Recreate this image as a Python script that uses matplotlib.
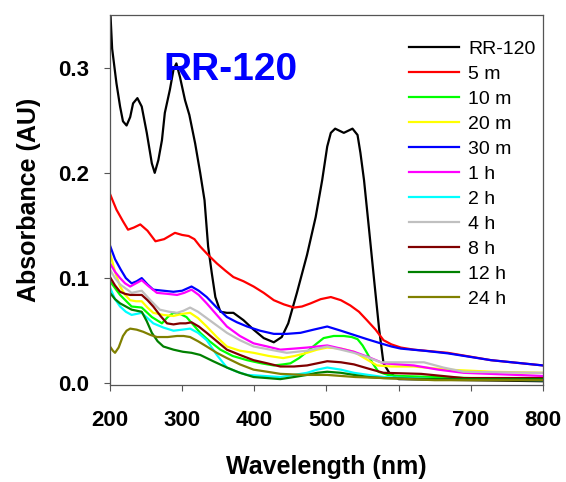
import matplotlib
matplotlib.use("Agg")
import matplotlib.pyplot as plt

plt.rcParams['font.family'] = ['Liberation Sans', 'DejaVu Sans']

# spectra (wavelength nm, absorbance AU)
wl_rr = [200, 203, 209, 214, 218, 223, 228, 232, 238, 244, 251, 258, 262, 267, 272,
         276, 283, 288, 292, 297, 304, 310, 318, 325, 331, 336, 341, 346, 353, 362,
         371, 385, 399, 413, 427, 438, 447, 459, 473, 485, 494, 501, 506, 512, 524,
         536, 543, 547, 552, 559, 566, 573, 579, 587, 600, 700, 800]
abs_rr = [0.36, 0.318, 0.285, 0.263, 0.249, 0.245, 0.253, 0.266, 0.271, 0.263, 0.238,
          0.209, 0.200, 0.212, 0.231, 0.257, 0.279, 0.298, 0.304, 0.291, 0.269, 0.255,
          0.228, 0.200, 0.174, 0.130, 0.105, 0.082, 0.068, 0.067, 0.067, 0.060, 0.051,
          0.043, 0.039, 0.044, 0.057, 0.086, 0.122, 0.158, 0.193, 0.225, 0.238, 0.242,
          0.238, 0.242, 0.236, 0.219, 0.193, 0.146, 0.098, 0.051, 0.019, 0.010, 0.004,
          0.003, 0.002]

wl_5m = [200, 209, 218, 225, 233, 242, 252, 263, 275, 290, 300, 309, 317, 325, 336,
         348, 360, 371, 385, 399, 413, 427, 441, 455, 466, 478, 492, 506, 520, 533,
         545, 556, 568, 579, 590, 603, 621, 668, 728, 800]
abs_5m = [0.180, 0.165, 0.154, 0.146, 0.148, 0.151, 0.145, 0.135, 0.137, 0.143, 0.141,
          0.140, 0.137, 0.130, 0.122, 0.114, 0.107, 0.101, 0.097, 0.092, 0.086, 0.079,
          0.075, 0.072, 0.073, 0.076, 0.080, 0.082, 0.079, 0.074, 0.068, 0.060, 0.051,
          0.041, 0.037, 0.034, 0.032, 0.029, 0.022, 0.017]

wl_10m = [200, 214, 230, 244, 258, 272, 280, 288, 297, 306, 315, 325, 338, 353, 370,
          390, 410, 427, 440, 450, 462, 473, 485, 496, 510, 524, 535, 543, 550, 556,
          564, 572, 585, 600, 700, 800]
abs_10m = [0.097, 0.084, 0.073, 0.072, 0.063, 0.057, 0.063, 0.067, 0.066, 0.063, 0.056,
           0.048, 0.040, 0.032, 0.026, 0.022, 0.019, 0.017, 0.018, 0.019, 0.024, 0.030,
           0.037, 0.043, 0.045, 0.045, 0.044, 0.042, 0.036, 0.029, 0.019, 0.011, 0.008,
           0.007, 0.005, 0.005]

wl_20m = [200, 207, 214, 221, 228, 236, 244, 252, 260, 274, 288, 300, 311, 322, 334,
          348, 362, 380, 399, 420, 440, 456, 473, 487, 501, 520, 538, 555, 570, 590,
          621, 668, 730, 800]
abs_20m = [0.124, 0.106, 0.092, 0.084, 0.079, 0.078, 0.078, 0.072, 0.067, 0.065, 0.064,
           0.066, 0.067, 0.062, 0.054, 0.044, 0.035, 0.031, 0.029, 0.026, 0.024, 0.026,
           0.029, 0.032, 0.034, 0.033, 0.030, 0.023, 0.017, 0.016, 0.016, 0.013, 0.011,
           0.010]

wl_30m = [200, 207, 215, 222, 230, 237, 244, 252, 260, 274, 288, 300, 313, 323, 334,
          348, 362, 376, 390, 408, 427, 445, 464, 482, 501, 520, 538, 556, 575, 590,
          603, 635, 668, 728, 800]
abs_30m = [0.131, 0.118, 0.108, 0.100, 0.095, 0.097, 0.100, 0.094, 0.089, 0.088, 0.087,
           0.088, 0.092, 0.088, 0.082, 0.072, 0.063, 0.058, 0.054, 0.050, 0.047, 0.047,
           0.048, 0.051, 0.054, 0.050, 0.046, 0.042, 0.038, 0.035, 0.033, 0.031, 0.0285,
           0.022, 0.017]

wl_1h = [200, 207, 214, 221, 228, 236, 244, 254, 265, 280, 293, 303, 313, 323, 334,
         348, 362, 380, 399, 418, 436, 455, 473, 487, 501, 520, 538, 558, 579, 600,
         621, 655, 690, 800]
abs_1h = [0.114, 0.106, 0.100, 0.095, 0.092, 0.095, 0.098, 0.092, 0.086, 0.085, 0.084,
          0.086, 0.089, 0.084, 0.076, 0.065, 0.054, 0.045, 0.038, 0.035, 0.032, 0.033,
          0.034, 0.035, 0.036, 0.033, 0.030, 0.025, 0.019, 0.018, 0.017, 0.013, 0.010,
          0.007]

wl_2h = [200, 207, 214, 222, 230, 237, 244, 252, 260, 274, 288, 300, 311, 322, 334,
         348, 362, 376, 390, 413, 436, 455, 473, 487, 501, 520, 538, 558, 579, 650, 800]
abs_2h = [0.091, 0.080, 0.073, 0.068, 0.065, 0.066, 0.067, 0.062, 0.057, 0.053, 0.050,
          0.051, 0.052, 0.048, 0.041, 0.027, 0.015, 0.011, 0.008, 0.007, 0.006, 0.008,
          0.010, 0.013, 0.015, 0.013, 0.010, 0.008, 0.006, 0.004, 0.003]

wl_4h = [200, 207, 214, 222, 230, 237, 244, 256, 269, 282, 293, 302, 311, 322, 334,
         348, 362, 380, 399, 422, 445, 473, 501, 520, 538, 556, 575, 605, 635, 662,
         690, 800]
abs_4h = [0.108, 0.100, 0.094, 0.090, 0.086, 0.087, 0.088, 0.079, 0.070, 0.068, 0.067,
          0.069, 0.072, 0.068, 0.062, 0.055, 0.048, 0.041, 0.035, 0.032, 0.029, 0.031,
          0.035, 0.032, 0.029, 0.025, 0.020, 0.020, 0.020, 0.015, 0.011, 0.010]

wl_8h = [200, 207, 214, 221, 228, 236, 244, 252, 260, 270, 279, 288, 297, 305, 313,
         323, 334, 348, 362, 380, 399, 418, 436, 455, 473, 487, 501, 520, 538, 558,
         579, 631, 690, 800]
abs_8h = [0.101, 0.093, 0.087, 0.085, 0.084, 0.084, 0.084, 0.079, 0.073, 0.064, 0.057,
          0.056, 0.057, 0.057, 0.058, 0.054, 0.048, 0.040, 0.032, 0.027, 0.022, 0.019,
          0.016, 0.016, 0.017, 0.019, 0.021, 0.020, 0.018, 0.014, 0.010, 0.009, 0.005,
          0.005]

wl_12h = [200, 207, 214, 222, 230, 237, 244, 251, 258, 266, 274, 288, 301, 313, 325,
          343, 362, 380, 399, 418, 436, 455, 473, 487, 501, 520, 538, 558, 579, 650, 800]
abs_12h = [0.086, 0.080, 0.076, 0.073, 0.070, 0.069, 0.068, 0.059, 0.048, 0.040, 0.035,
           0.032, 0.030, 0.029, 0.027, 0.021, 0.015, 0.010, 0.006, 0.005, 0.004, 0.006,
           0.008, 0.010, 0.011, 0.010, 0.008, 0.006, 0.005, 0.004, 0.004]

wl_24h = [200, 204, 207, 212, 218, 223, 228, 237, 246, 256, 265, 280, 293, 302, 311,
          322, 334, 348, 362, 380, 399, 418, 436, 470, 501, 540, 579, 650, 800]
abs_24h = [0.035, 0.031, 0.029, 0.034, 0.045, 0.050, 0.052, 0.051, 0.049, 0.046, 0.044,
           0.044, 0.045, 0.045, 0.044, 0.040, 0.035, 0.029, 0.024, 0.018, 0.013, 0.011,
           0.009, 0.008, 0.008, 0.006, 0.005, 0.003, 0.003]

series = [
    ("RR-120", wl_rr, abs_rr, "black"),
    ("5 m", wl_5m, abs_5m, "#ff0000"),
    ("10 m", wl_10m, abs_10m, "#00ff00"),
    ("20 m", wl_20m, abs_20m, "#ffff00"),
    ("30 m", wl_30m, abs_30m, "#0000ff"),
    ("1 h", wl_1h, abs_1h, "#ff00ff"),
    ("2 h", wl_2h, abs_2h, "#00ffff"),
    ("4 h", wl_4h, abs_4h, "#c0c0c0"),
    ("8 h", wl_8h, abs_8h, "#800000"),
    ("12 h", wl_12h, abs_12h, "#008000"),
    ("24 h", wl_24h, abs_24h, "#808000"),
]

fig = plt.figure(figsize=(5.66, 4.82), dpi=100)
ax = fig.add_axes([0.1943, 0.2012, 0.7651, 0.7677])

for label, x, y, c in series:
    ax.plot(x, y, color=c, lw=1.6, label=label)

ax.set_xlim(200, 800)
ax.set_ylim(-0.0016, 0.35)
ax.set_xticks([200, 300, 400, 500, 600, 700, 800])
ax.set_yticks([0.0, 0.1, 0.2, 0.3])
ax.set_yticklabels(["0.0", "0.1", "0.2", "0.3"])
ax.tick_params(direction='out', length=4, width=0.8, color='#555555', labelsize=16)
ax.tick_params(axis='x', pad=14)
ax.tick_params(axis='y', pad=11)
for lab in ax.get_xticklabels() + ax.get_yticklabels():
    lab.set_fontweight('bold')
for sp in ax.spines.values():
    sp.set_color('#555555')
    sp.set_linewidth(0.9)

ax.set_xlabel("Wavelength (nm)", fontsize=18, fontweight='bold', labelpad=17)
ax.set_ylabel("Absorbance (AU)", fontsize=18, fontweight='bold', labelpad=12)

ax.text(367, 0.298, "RR-120", color='#0000ff', fontsize=28, fontweight='bold',
        ha='center', va='center')

ax.legend(loc='upper left', bbox_to_anchor=(0.69, 0.932), frameon=False,
          fontsize=14, handlelength=2.6, handletextpad=0.45, labelspacing=0.38,
          borderpad=0, borderaxespad=0)

fig.savefig("out.png", dpi=100)
